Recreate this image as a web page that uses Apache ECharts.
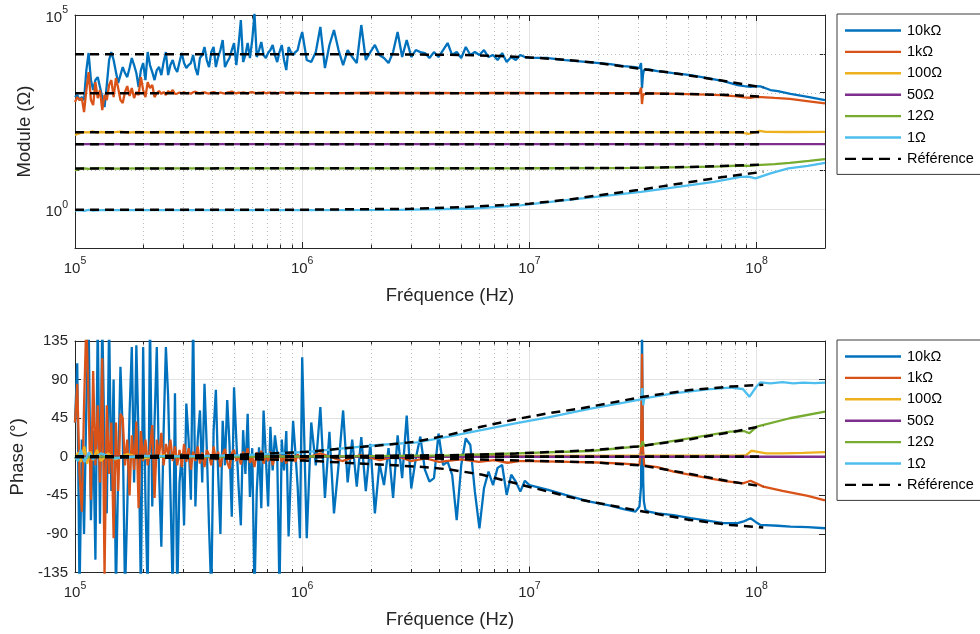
<!DOCTYPE html>
<html><head><meta charset="utf-8">
<script src="https://cdn.jsdelivr.net/npm/echarts@6/dist/echarts.min.js"></script>
<style>html,body{margin:0;padding:0;background:#fff}#c{width:980px;height:634px}</style>
</head><body><div id="c"></div>
<script>
// ---------------- DATA ----------------
const seriesNames = ['10k\u03A9', '1k\u03A9', '100\u03A9', '50\u03A9', '12\u03A9', '1\u03A9'];
const refName = 'R\u00e9f\u00e9rence';

// shared frequency grids for the noisy low-frequency part (Hz)
const fLow = [1.000e5,1.023e5,1.047e5,1.072e5,1.096e5,1.122e5,1.148e5,1.175e5,1.202e5,1.230e5,
  1.259e5,1.288e5,1.318e5,1.349e5,1.380e5,1.413e5,1.445e5,1.479e5,1.514e5,1.549e5,
  1.585e5,1.622e5,1.660e5,1.698e5,1.738e5,1.778e5,1.820e5,1.862e5,1.905e5,1.950e5,
  1.995e5,2.042e5,2.089e5,2.138e5,2.188e5,2.239e5,2.291e5,2.344e5,2.399e5,2.455e5,
  2.512e5,2.570e5,2.630e5,2.692e5,2.754e5,2.818e5,2.884e5,2.951e5,3.020e5,3.090e5,
  3.162e5,3.236e5,3.311e5,3.388e5,3.467e5,3.548e5,3.631e5,3.715e5,3.802e5,3.890e5,
  3.981e5,4.074e5,4.169e5,4.266e5,4.365e5,4.467e5,4.571e5,4.677e5,4.786e5,4.898e5,
  5.012e5,5.129e5,5.248e5,5.370e5,5.495e5,5.623e5,5.754e5,5.888e5,6.026e5,6.166e5,
  6.310e5,6.457e5,6.607e5,6.761e5,6.918e5,7.079e5,7.244e5,7.413e5,7.586e5,7.762e5,
  7.943e5,8.128e5,8.318e5,8.511e5,8.710e5,8.913e5,9.120e5,9.333e5,9.550e5,9.772e5];
const fMid = [1.000e6,1.047e6,1.096e6,1.148e6,1.202e6,1.259e6,1.318e6,1.380e6,1.445e6,1.514e6,
  1.585e6,1.660e6,1.738e6,1.820e6,1.905e6,1.995e6,2.089e6,2.188e6,2.291e6,2.399e6,
  2.512e6,2.630e6,2.754e6,2.884e6,3.020e6,3.162e6,3.311e6,3.467e6,3.631e6,3.802e6,
  3.981e6,4.169e6,4.365e6,4.571e6,4.786e6,5.012e6,5.248e6,5.495e6,5.754e6,6.026e6,
  6.310e6,6.607e6,6.918e6,7.244e6,7.586e6,7.943e6,8.318e6,8.710e6,9.120e6,9.550e6];

// ---- Module (Ohm) ----
const mod10kLow = [770,870,645,770,645,3820,10500,2110,1170,2110,
  2520,1390,770,425,1570,6920,11100,6920,3400,1770,
  2840,4570,3200,2520,4310,7800,5140,3200,1390,3820,
  5800,2110,11100,5140,3400,2110,3820,4570,2840,6150,
  11100,2840,5140,6920,4310,3400,6150,10500,5800,4310,
  5140,5800,9310,4310,2840,7800,9310,15000,6920,4570,
  11100,15000,4570,8270,12500,22700,4570,6150,7800,12500,
  19000,5140,16900,74300,6150,9310,19000,7800,22700,110000,
  8270,12500,20100,9310,7800,10500,12500,16900,9310,6150,
  11100,16900,6920,3820,15000,11100,9310,11100,12500,22700];
const mod10kMid = [36500,6920,6150,11100,49100,4310,16900,41000,12500,5140,
  12500,8270,5800,55200,6920,11100,16900,9310,7800,5800,
  11100,36500,8270,22700,8270,12500,11100,10500,7800,11100,
  8270,12500,19000,9310,11100,7800,15000,9310,11100,9310,
  12500,8270,9310,6920,10500,6150,8270,6920,9310,8270];
const mod10kTailF = [1.0e7,1.21e7,1.44e7,1.82e7,2.27e7,2.6e7,2.93e7,3.05e7,3.10e7,3.13e7,
  3.16e7,3.19e7,3.24e7,3.35e7,3.66e7,4.31e7,5.12e7,6.08e7,7.15e7,8.25e7,
  8.85e7,9.41e7,9.9e7,1.04e8,1.15e8,1.24e8,1.41e8,1.68e8,2.0e8];
const mod10kTailV = [8000,7800,6920,6150,5460,4850,4570,4310,5800,1310,
  2840,3820,4050,3950,3600,3200,2840,2380,1980,1570,
  1480,1410,1480,1450,1170,1100,925,784,645];

const mod1kLow = [573,770,645,726,316,1170,3400,645,480,1870,
  726,1170,356,870,645,1570,2110,770,2380,1310,
  645,540,1040,1480,820,1310,726,1040,870,2520,
  1170,770,1870,1310,1570,770,980,1100,925,1040,
  870,1100,980,1170,925,
  950,1010,970,1030,960,990,940,1020,1060,980,
  960,1000,1020,970,950,1000,1040,990,960,1010,
  980,950,1000,1030,1070,990,960,1000,980,1020,
  990,960,1010,1040,980,970,1000,990,1030,960,
  990,1010,980,1000,960,990,1020,1000,970,990,
  1010,980,1000,990,1000];
const mod1kTailF = [1.0e6,1.5e6,2e6,3e6,4e6,5e6,7e6,1e7,1.5e7,2e7,
  3.05e7,3.10e7,3.13e7,3.16e7,3.19e7,3.3e7,4e7,5e7,6e7,7e7,
  8.2e7,8.8e7,9.4e7,9.9e7,1.05e8,1.2e8,1.4e8,1.7e8,2e8];
const mod1kTailV = [990,975,995,980,990,975,985,980,975,975,
  970,1350,510,880,960,965,950,920,890,860,
  800,760,740,780,770,730,690,600,530];

const mod100F = [1e5,1.02e5,1.05e5,1.08e5,1.1e5,1.15e5,1.2e5,1.25e5,1.3e5,1.4e5,
  1.5e5,1.6e5,1.7e5,1.9e5,2.1e5,2.4e5,2.7e5,3e5,1e6,1e7,
  5e7,8.5e7,9.2e7,9.8e7,1.03e8,1.1e8,1.4e8,2e8];
const mod100V = [82,86,90,96,92,95,100,94,97,93,
  96,99,94,97,95,97,95,96,95,95,
  95,95,87,95,104,98,97,98];

const mod50F = [1e5, 2e8];
const mod50V = [47.3, 47.3];

const mod12F = [1e5,1.03e5,1.06e5,1.1e5,1.15e5,1.2e5,1.3e5,1.5e5,2e5,1e6,
  1e7,2e7,3e7,5e7,7e7,8.5e7,9.3e7,1e8,1.2e8,1.4e8,1.7e8,2e8];
const mod12V = [10.0,10.6,11.0,11.3,10.9,11.2,11.4,11.1,11.2,11.2,
  11.3,11.4,11.6,12.1,12.7,13.3,13.0,13.6,14.5,15.6,17.5,19.5];

const mod1F = [1e5,1.02e5,1.05e5,1.1e5,1.15e5,1.2e5,1.3e5,1.5e5,2e5,1e6,
  2.7e6,5.7e6,9.3e6,1.45e7,2.1e7,3.1e7,4.5e7,6.5e7,8.5e7,9.2e7,
  9.9e7,1.15e8,1.38e8,1.68e8,2e8];
const mod1V = [0.92,0.88,0.95,0.9,0.96,0.92,0.95,0.94,0.95,0.95,
  0.96,1.04,1.27,1.71,2.16,2.79,3.76,5.06,6.79,6.9,
  6.18,8.32,11.2,13.1,15.6];

// reference (dashed) module curves
const refMod10kF = [1e5,1e6,2e6,3e6,5e6,7e6,1e7,1.5e7,2e7,3e7,4e7,5e7,7e7,9e7,1.07e8];
const refMod10kV = [9800,9800,9750,9650,9350,8900,8100,6900,5800,4200,3400,2800,2050,1600,1350];
const refMod1kF = [1e5,1e7,3e7,5e7,7e7,9e7,1.07e8];
const refMod1kV = [965,965,955,925,880,830,790];
const refMod100F = [1e5,1.07e8];
const refMod100V = [95,95];
const refMod50F = [1e5,1.07e8];
const refMod50V = [47.3,47.3];
const refMod12F = [1e5,1e7,3e7,5e7,7e7,9e7,1.07e8];
const refMod12V = [11.2,11.3,11.6,12.2,12.9,13.6,14.1];
const refMod1F = [1e5,1e6,3e6,5e6,1e7,1.5e7,2e7,3e7,5e7,7e7,1.07e8];
const refMod1V = [0.96,0.97,1.02,1.12,1.38,1.78,2.25,3.1,4.9,6.6,9.2];

// ---- Phase (deg) ----
const ph10kLow = [40,109,-160,20,-90,60,160,-74,30,-120,
  160,-78,160,10,-66,160,-40,90,-160,-20,
  105,30,-160,-60,50,128,-30,130,20,-160,
  128,-50,-160,160,-58,40,128,-20,-105,30,
  128,70,-40,-160,74,-160,-30,4,-80,62,
  20,-50,160,-58,20,54,-30,85,10,-82,
  -160,30,78,-20,-90,42,-10,66,15,-70,
  81,20,-35,-80,31,-20,50,-47,10,-160,
  -40,11,-60,54,0,-58,35,-16,25,4,
  -160,20,-16,30,-93,-20,42,5,-35,-95];
const ph10kMid = [116,-95,40,-10,58,-48,29,-66,-10,54,
  -30,20,-35,23,-40,15,-66,-8,-33,10,
  -48,25,-25,48,-37,-2,23.5,-15,-29,-25,
  27,-9.6,-5.7,-21,-74,-9.6,21.5,13.7,-40.7,-83.4,
  -36.8,-17.3,-33,-13,-9.6,-44.5,-21,-29,-40.7,-28];
const ph10kTailF = [1.0e7,1.21e7,1.44e7,1.82e7,2.27e7,2.6e7,2.93e7,3.05e7,3.10e7,3.12e7,
  3.13e7,3.14e7,3.15e7,3.17e7,3.19e7,3.24e7,3.35e7,3.66e7,4.31e7,5.12e7,
  6.08e7,7.15e7,8.25e7,8.85e7,9.41e7,9.9e7,1.04e8,1.24e8,1.41e8,1.68e8,2e8];
const ph10kTailV = [-33,-38.6,-44.5,-52,-57,-61,-64,-58,-35,60,
  160,160,40,-30,-52,-62,-64,-66,-68,-71.7,
  -74.5,-77.5,-77.5,-75,-71.7,-76,-79.5,-80.5,-81.4,-82,-83.4];

const ph1kLow = [40,85,-20,-64,60,160,60,-50,100,-10,
  60,-30,115,-140,60,-20,40,-95,40,-40,
  50,45,-10,20,-45,25,-15,41,-60,30,
  -5,20,-10,10,37,-48,20,0,28,-10,
  15,3,20,-5,12,-10,8,-12,15,-6,
  10,-15,6,-5,12,-8,5,-12,8,2,
  -10,12,-4,6,-12,3,9,-6,-14,4,
  8,-5,2,-9,6,-3,10,-7,0,-12,
  5,-2,7,-8,3,-5,6,-10,2,-4,
  5,-6,1,-8,4,-3,2,-6,3,-2];
const ph1kTailF = [1e6,1.2e6,1.5e6,1.8e6,2.2e6,2.6e6,3e6,3.5e6,4e6,5e6,
  6e6,7e6,8e6,9e6,1e7,1.5e7,1.87e7,2.6e7,3.05e7,3.10e7,
  3.13e7,3.16e7,3.2e7,3.66e7,4.31e7,5.12e7,7.15e7,8.7e7,9.4e7,1.07e8,
  1.3e8,1.68e8,2e8];
const ph1kTailV = [-3,4,-5,2,-4,1,-5,-2,-6,-3,
  -6,-4,-7,-5,-5,-6,-6.4,-8,-9.5,10,
  120,10,-10,-12,-17.3,-21,-28.2,-31,-28,-34.8,
  -39.9,-45.7,-51];

const ph100F = [1e5,1.03e5,1.06e5,1.1e5,1.13e5,1.17e5,1.2e5,1.25e5,1.3e5,1.4e5,
  1.5e5,1.7e5,2e5,2.5e5,3e5,1e6,1e7,8.5e7,9e7,9.5e7,
  1e8,1.1e8,1.3e8,1.6e8,2e8];
const ph100V = [-3,5,-6,12,-8,6,-4,8,-5,4,
  -3,3,-2,2,0,0.5,1,1.5,2,7,
  6,4,4,4.5,5.5];

const ph50F = [1e5, 2e8];
const ph50V = [0, 0];

const ph12F = [1e5,1.05e5,1.1e5,1.2e5,1.5e5,2e5,1e6,2e6,4.4e6,8.7e6,
  1.86e7,3.1e7,3.15e7,3.2e7,5.12e7,7.65e7,8.8e7,9.3e7,1e8,1.4e8,2e8];
const ph12V = [0,2,-2,1,-1,0,0.3,0.7,1.5,4,
  6.7,12.5,18,13,21.6,29.4,30,27.4,35.2,44.9,52.7];

const ph1F = [1e5,1.03e5,1.06e5,1.1e5,1.15e5,1.2e5,1.3e5,1.5e5,2e5,3e5,
  5.6e5,1.09e6,1.55e6,2.16e6,3.2e6,4.4e6,6.21e6,8.67e6,1.21e7,1.86e7,
  2.6e7,3.1e7,3.14e7,3.17e7,3.2e7,4.31e7,6.08e7,7.65e7,8.7e7,9.3e7,
  1e8,1.04e8,1.15e8,1.3e8,1.45e8,1.6e8,1.8e8,2e8];
const ph1V = [0,-5,8,-6,5,-3,4,-2,1,0.5,
  2,6,10,13.7,16.8,23.5,31.3,39,46,56,
  63,67,80,60,68,74,78.7,80.7,79,70,
  82,86.8,85.5,87,85.5,86.5,85.8,86.5];

// reference (dashed) phase curves
const refPh10kF = [1e5,3e5,5e5,1e6,2e6,3.2e6,4.4e6,6.2e6,8.7e6,1.21e7,1.7e7,2.9e7,5.1e7,7.65e7,1.07e8];
const refPh10kV = [-0.4,-1.3,-2.2,-4.3,-8.5,-11.5,-14.6,-21,-31,-40.7,-50.4,-62,-73.7,-79.5,-82.6];
const refPh1kF = [1e5,1e6,3e6,1e7,1.87e7,3.1e7,5.1e7,7.7e7,1.07e8];
const refPh1kV = [0,-0.4,-1.5,-4.5,-6.5,-10,-20,-29,-34.8];
const refPh100F = [1e5,1.07e8];
const refPh100V = [0,0];
const refPh50F = [1e5,1.07e8];
const refPh50V = [0,0];
const refPh12F = [1e5,1e6,4.4e6,8.7e6,1.86e7,3e7,5e7,7.65e7,1.07e8];
const refPh12V = [0,0.4,1.8,3.8,7.5,12,20,28.5,36];
const refPh1F = [1e5,5e5,1.1e6,1.55e6,2.16e6,3.2e6,4.4e6,6.2e6,8.7e6,1.21e7,1.7e7,1.86e7,3.18e7,5.1e7,7.65e7,1.07e8];
const refPh1V = [0,2,6,10,13,17.7,25.4,35.2,43.7,50.7,56.5,58.5,70,77.9,81.8,84];

// axis ticks / grid positions
const minorFreqs = [2e5,3e5,4e5,5e5,6e5,7e5,8e5,9e5,2e6,3e6,4e6,5e6,6e6,7e6,8e6,9e6,2e7,3e7,4e7,5e7,6e7,7e7,8e7,9e7];
const modMinorDecades = [10, 100, 1000, 10000];
const modMajorLabels = [1, 1e5];
const phaseTicks = [-135, -90, -45, 0, 45, 90, 135];

// ---------------- CHART ----------------
const FONT = '"Liberation Sans", Arial, Helvetica, sans-serif';
const AX = '#262626';
const colors = ['#0072BD','#D95319','#EDB120','#7E2F8E','#77AC30','#4DBEEE'];
const SOLID_ICON = 'path://M0,0H56V2.4H0Z';
const DASH_ICON = 'path://M0,0H11V2.4H0Z M17,0H28V2.4H17Z M34,0H45V2.4H34Z M53,0H56V2.4H53Z';

function pairs(f, v) {
  if (f.length !== v.length) console.error('length mismatch', f.length, v.length);
  return f.map((x, i) => [x, v[i]]);
}

const modData = [
  pairs(fLow.concat(fMid, mod10kTailF), mod10kLow.concat(mod10kMid, mod10kTailV)),
  pairs(fLow.concat(mod1kTailF), mod1kLow.concat(mod1kTailV)),
  pairs(mod100F, mod100V), pairs(mod50F, mod50V), pairs(mod12F, mod12V), pairs(mod1F, mod1V)
];
const modRef = [
  pairs(refMod10kF, refMod10kV), pairs(refMod1kF, refMod1kV), pairs(refMod100F, refMod100V),
  pairs(refMod50F, refMod50V), pairs(refMod12F, refMod12V), pairs(refMod1F, refMod1V)
];
const phData = [
  pairs(fLow.concat(fMid, ph10kTailF), ph10kLow.concat(ph10kMid, ph10kTailV)),
  pairs(fLow.concat(ph1kTailF), ph1kLow.concat(ph1kTailV)),
  pairs(ph100F, ph100V), pairs(ph50F, ph50V), pairs(ph12F, ph12V), pairs(ph1F, ph1V)
];
const phRef = [
  pairs(refPh10kF, refPh10kV), pairs(refPh1kF, refPh1kV), pairs(refPh100F, refPh100V),
  pairs(refPh50F, refPh50V), pairs(refPh12F, refPh12V), pairs(refPh1F, refPh1V)
];

function sci(v) {
  const e = Math.log10(v), r = Math.round(e);
  if (Math.abs(e - r) > 1e-3) return '';
  return '{b|10}{s|' + r + '}';
}
const rich = {
  b: { fontSize: 15, fontFamily: FONT, color: AX, lineHeight: 20, verticalAlign: 'bottom' },
  s: { fontSize: 10.5, fontFamily: FONT, color: AX, lineHeight: 12, verticalAlign: 'top', padding: [0, 0, 8, 0] }
};

function xAxes(gi) {
  return [{
    gridIndex: gi, type: 'log', logBase: 10, min: 1e5, max: 2e8, splitNumber: 3, position: 'bottom',
    name: 'Fr\u00e9quence (Hz)', nameLocation: 'middle', nameGap: 38,
    nameTextStyle: { fontSize: 18.5, color: AX, fontFamily: FONT },
    axisLine: { show: true, onZero: false, lineStyle: { color: AX, width: 1 } },
    axisTick: { show: true, inside: true, length: 6, lineStyle: { color: AX } },
    axisLabel: { formatter: sci, rich: rich, margin: 8, showMaxLabel: false, showMinLabel: true },
    splitLine: { show: true, lineStyle: { color: '#e3e3e3', width: 1 } },
    minorTick: { show: false }, minorSplitLine: { show: false }
  }, {
    gridIndex: gi, type: 'log', logBase: 10, min: 1e5, max: 2e8, splitNumber: 3, position: 'top',
    axisLine: { show: true, onZero: false, lineStyle: { color: AX, width: 1 } },
    axisTick: { show: true, inside: true, length: 6, lineStyle: { color: AX } },
    axisLabel: { show: false }, splitLine: { show: false }
  }];
}

const legendData = seriesNames.map(n => ({ name: n, icon: SOLID_ICON }))
  .concat([{ name: refName, icon: DASH_ICON }]);

const option = {
  animation: false,
  backgroundColor: '#ffffff',
  textStyle: { fontFamily: FONT },
  grid: [
    { left: 75, top: 15, width: 750, height: 233, outerBoundsMode: 'none' },
    { left: 75, top: 341, width: 750, height: 231.5, outerBoundsMode: 'none' }
  ],
  xAxis: xAxes(0).concat(xAxes(1)),
  yAxis: [
    { gridIndex: 0, type: 'log', logBase: 10, min: 0.1, max: 1e5, splitNumber: 6, position: 'left',
      name: 'Module (\u03A9)', nameLocation: 'middle', nameGap: 40, nameRotate: 90,
      nameTextStyle: { fontSize: 18.5, color: AX, fontFamily: FONT },
      axisLine: { show: true, onZero: false, lineStyle: { color: AX } },
      axisTick: { show: true, inside: true, length: 5, lineStyle: { color: AX } },
      axisLabel: { margin: 7, rich: rich, formatter: v => {
        const ok = modMajorLabels.some(m => Math.abs(Math.log10(v) - Math.log10(m)) < 1e-3);
        return ok ? sci(v) : '';
      } },
      splitLine: { show: false } },
    { gridIndex: 0, type: 'log', logBase: 10, min: 0.1, max: 1e5, splitNumber: 6, position: 'right',
      axisLine: { show: true, onZero: false, lineStyle: { color: AX } },
      axisTick: { show: true, inside: true, length: 5, lineStyle: { color: AX } },
      axisLabel: { show: false }, splitLine: { show: false } },
    { gridIndex: 1, type: 'value', min: phaseTicks[0], max: phaseTicks[phaseTicks.length - 1], interval: 45, position: 'left',
      name: 'Phase (\u00b0)', nameLocation: 'middle', nameGap: 46, nameRotate: 90,
      nameTextStyle: { fontSize: 18.5, color: AX, fontFamily: FONT },
      axisLine: { show: true, onZero: false, lineStyle: { color: AX } },
      axisTick: { show: true, inside: true, length: 6, lineStyle: { color: AX } },
      axisLabel: { margin: 7, fontSize: 15, color: AX, fontFamily: FONT },
      splitLine: { show: true, lineStyle: { color: '#e3e3e3', width: 1 } } },
    { gridIndex: 1, type: 'value', min: phaseTicks[0], max: phaseTicks[phaseTicks.length - 1], interval: 45, position: 'right',
      axisLine: { show: true, onZero: false, lineStyle: { color: AX } },
      axisTick: { show: true, inside: true, length: 6, lineStyle: { color: AX } },
      axisLabel: { show: false }, splitLine: { show: false } }
  ],
  legend: [0, 1].map(i => ({
    data: legendData,
    orient: 'vertical', left: 837, top: i === 0 ? 14 : 340,
    itemWidth: 56, itemHeight: 2.4, itemGap: 6.4,
    padding: [9, 14, 8, 8],
    backgroundColor: '#ffffff', borderColor: '#3a3a3a', borderWidth: 1, borderRadius: 0,
    textStyle: { fontSize: 14.5, color: '#000', fontFamily: FONT, padding: [0, 0, 0, 1] },
    selectedMode: false
  })),
  series: []
};

function deco(yRefVal) {
  return function (params, api) {
    const cs = params.coordSys;
    const kind = api.value(2);
    if (kind === 0) {
      const x = Math.round(api.coord([api.value(0), yRefVal])[0]) + 0.5;
      return { type: 'group', children: [
        { type: 'line', shape: { x1: x, y1: cs.y, x2: x, y2: cs.y + cs.height }, style: { stroke: '#bdbdbd', lineWidth: 1, lineDash: [1, 3] } },
        { type: 'line', shape: { x1: x, y1: cs.y + cs.height, x2: x, y2: cs.y + cs.height - 3.5 }, style: { stroke: AX, lineWidth: 1 } },
        { type: 'line', shape: { x1: x, y1: cs.y, x2: x, y2: cs.y + 3.5 }, style: { stroke: AX, lineWidth: 1 } }
      ] };
    }
    const y = Math.round(api.coord([1e6, api.value(1)])[1]) + 0.5;
    return { type: 'line', shape: { x1: cs.x, y1: y, x2: cs.x + cs.width, y2: y },
      style: kind === 2 ? { stroke: '#e3e3e3', lineWidth: 1 } : { stroke: '#bdbdbd', lineWidth: 1, lineDash: [1, 3] } };
  };
}

const decoTop = minorFreqs.map(f => [f, 1, 0])
  .concat(modMinorDecades.map(v => [1e6, v, 1]))
  .concat([[1e6, modMajorLabels[0], 2]]);
const decoBot = minorFreqs.map(f => [f, 0, 0]);

option.series.push({ type: 'custom', name: 'decoTop', xAxisIndex: 0, yAxisIndex: 0, silent: true, clip: false,
  renderItem: deco(1), data: decoTop, z: 1 });
option.series.push({ type: 'custom', name: 'decoBot', xAxisIndex: 2, yAxisIndex: 2, silent: true, clip: false,
  renderItem: deco(0), data: decoBot, z: 1 });

function addLines(dataArr, refArr, xi, yi) {
  dataArr.forEach((d, i) => option.series.push({
    type: 'line', name: seriesNames[i], data: d, xAxisIndex: xi, yAxisIndex: yi,
    symbol: 'none', showSymbol: false, clip: true, z: 3,
    color: colors[i], itemStyle: { color: colors[i] },
    lineStyle: { color: colors[i], width: 2.3 }
  }));
  refArr.forEach(d => option.series.push({
    type: 'line', name: refName, data: d, xAxisIndex: xi, yAxisIndex: yi,
    symbol: 'none', showSymbol: false, clip: true, z: 4,
    color: '#000', itemStyle: { color: '#000' },
    lineStyle: { color: '#000', width: 2.5, type: [9, 6] }
  }));
}
addLines(modData, modRef, 0, 0);
addLines(phData, phRef, 2, 2);

const chart = echarts.init(document.getElementById('c'), null, { renderer: 'canvas' });
chart.setOption(option);
</script>
</body></html>
